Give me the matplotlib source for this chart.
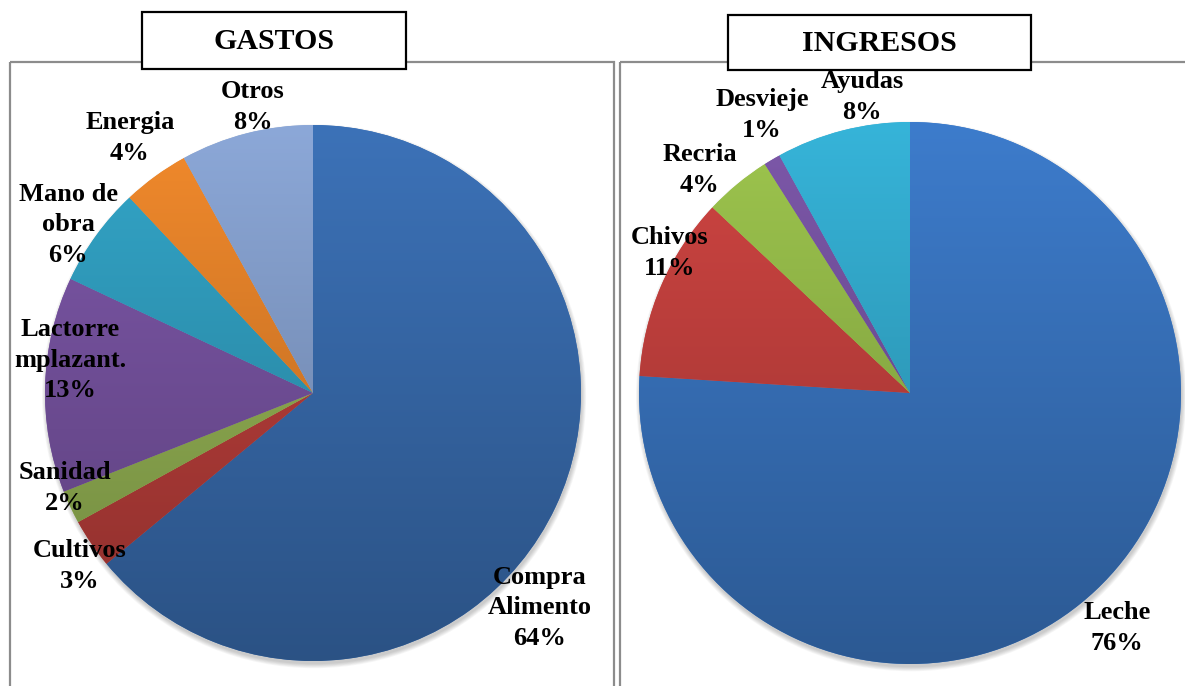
import numpy as np
import matplotlib
matplotlib.use("Agg")
import matplotlib.pyplot as plt
from matplotlib.colors import to_rgb
from matplotlib.patches import Rectangle, Circle

plt.rcParams["font.family"] = ["Liberation Serif", "DejaVu Serif"]
plt.rcParams["font.weight"] = "bold"

# datos
gastos_labels = ["Compra\nAlimento", "Cultivos", "Sanidad", "Lactorre\nmplazant.",
                 "Mano de\nobra", "Energia", "Otros"]
gastos_values = [64, 3, 2, 13, 6, 4, 8]
ingresos_labels = ["Leche", "Chivos", "Recria", "Desvieje", "Ayudas"]
ingresos_values = [76, 11, 4, 1, 8]

# estilo
gastos_colors = ["#3C72B8", "#C4423E", "#9CBC58", "#7E58AA", "#33A6C9", "#F28A2C", "#8CA8D8"]
ingresos_colors = ["#3D7CCC", "#D04542", "#9EC64E", "#7D58AA", "#36B4D9"]
# posiciones de etiquetas (en radios, relativas al centro)
gastos_label_pos = [(0.847, -0.802), (-0.869, -0.646), (-0.925, -0.354), (-0.907, 0.123),
                    (-0.914, 0.627), (-0.683, 0.951), (-0.224, 1.067)]
ingresos_label_pos = [(0.764, -0.867), (-0.886, 0.517), (-0.775, 0.823),
                      (-0.546, 1.026), (-0.177, 1.092)]

W, H = 1185, 686
fig = plt.figure(figsize=(W / 100, H / 100), dpi=100)

# fondo con marcos y titulos, en pixeles
bg = fig.add_axes([0, 0, 1, 1])
bg.set_xlim(0, W)
bg.set_ylim(H, 0)
bg.set_axis_off()

frame_kw = dict(facecolor="none", edgecolor="#8C8C8C", linewidth=1.6)
bg.add_patch(Rectangle((10, 62), 604, 700, **frame_kw))
bg.add_patch(Rectangle((620, 62), 700, 700, **frame_kw))

for (x0, y0, x1, y1, txt) in [(142, 12, 406, 69, "GASTOS"), (728, 15, 1031, 70, "INGRESOS")]:
    bg.add_patch(Rectangle((x0, y0), x1 - x0, y1 - y0, facecolor="white",
                           edgecolor="black", linewidth=1.6, zorder=3))
    bg.text((x0 + x1) / 2, (y0 + y1) / 2 + 1, txt, ha="center", va="center",
            fontsize=21.5, fontweight="bold", zorder=4)


def draw_pie(cx, cy, r, values, labels, colors, label_pos):
    ax = fig.add_axes([(cx - r) / W, (H - cy - r) / H, 2 * r / W, 2 * r / H])
    ax.set_axis_off()
    # sombra suave
    for k in range(6):
        ax.add_patch(Circle((0.004, -0.012), 1.0 + 0.003 * k, facecolor="black",
                            alpha=0.035, linewidth=0, zorder=0, clip_on=False))
    wedges, _ = ax.pie(values, colors=colors, startangle=90, counterclock=False,
                       radius=1, wedgeprops=dict(linewidth=0))
    for w, c in zip(wedges, colors):
        w.set_zorder(1)
        w.set_clip_on(False)
        top = np.array(to_rgb(c))
        bot = top * 0.72
        t = np.linspace(0, 1, 256)[:, None]
        grad = (top[None, :] * (1 - t) + bot[None, :] * t)[:, None, :]
        im = ax.imshow(grad, extent=(-1, 1, -1, 1), aspect="auto", zorder=2,
                       interpolation="bilinear")
        im.set_clip_path(w)
    for lab, v, (lx, ly) in zip(labels, values, label_pos):
        ax.text(lx, ly, f"{lab}\n{v}%", ha="center", va="center", fontsize=19,
                fontweight="bold", linespacing=1.42, clip_on=False, zorder=5)
    ax.set_xlim(-1, 1)
    ax.set_ylim(-1, 1)
    return ax


draw_pie(313, 393, 268, gastos_values, gastos_labels, gastos_colors, gastos_label_pos)
draw_pie(910, 393, 271, ingresos_values, ingresos_labels, ingresos_colors, ingresos_label_pos)

fig.savefig("out.png", dpi=100)
